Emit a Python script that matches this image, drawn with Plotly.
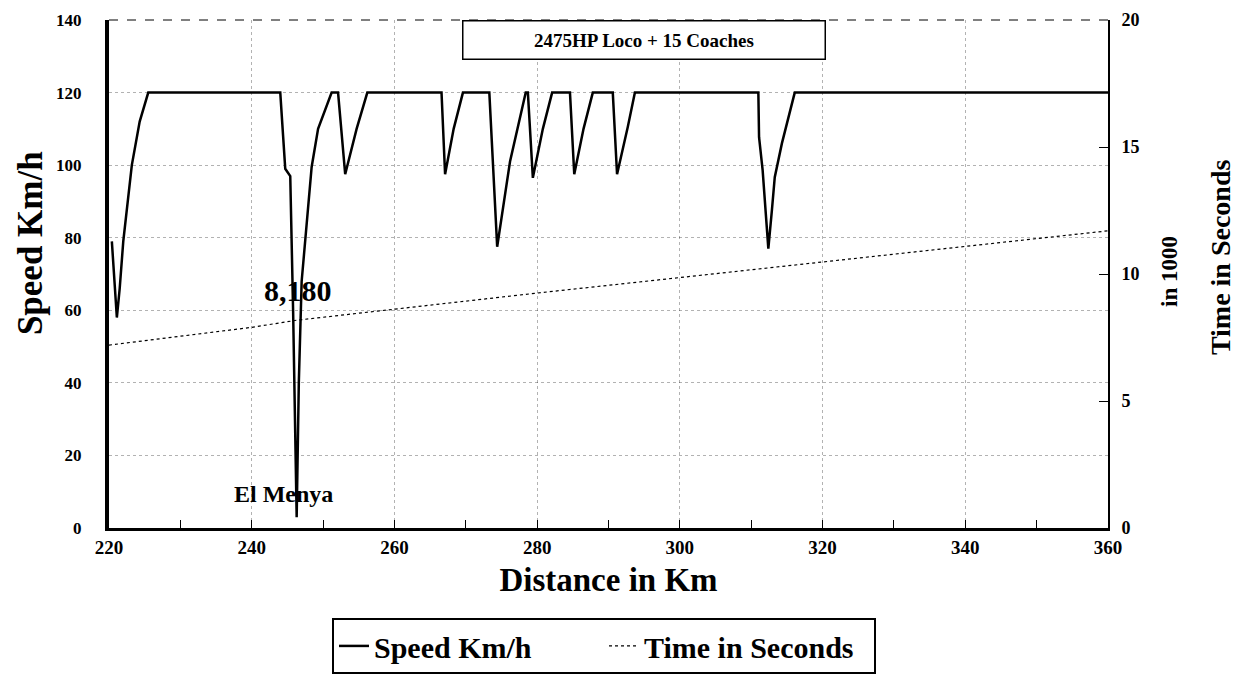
import plotly.graph_objects as go

# speed profile (km, km/h)
dist_km = [220.4, 221.1, 221.5, 222.0, 223.2, 224.3, 225.5,
           244.0, 244.4, 244.7, 245.4, 245.8, 246.3, 246.6, 247.0, 247.5, 248.4, 249.3, 251.2,
           252.1, 253.1, 254.7, 256.2,
           266.6, 267.1, 268.3, 269.6,
           273.3, 274.4, 276.2, 278.4,
           278.7, 279.4, 280.8, 282.1,
           284.6, 285.2, 286.5, 287.8,
           290.6, 291.2, 292.7, 293.7,
           311.0, 311.1, 311.6, 312.4, 312.9, 313.3, 314.3, 316.1,
           360.0]
speed_kmh = [79, 58, 66, 79, 100, 112, 120,
             120, 108, 99, 97, 60, 3, 40, 68, 79, 99.5, 110, 120,
             120, 97.5, 110, 120,
             120, 97.5, 110, 120,
             120, 77.5, 101, 120,
             120, 96.5, 110, 120,
             120, 97.5, 110, 120,
             120, 97.5, 110.5, 120,
             120, 107.7, 98.6, 77, 87.6, 96.7, 106, 120,
             120]

# cumulative time (thousands of seconds)
time_km = [220, 230, 240, 246.3, 260, 280, 300, 320, 340, 360]
time_ks = [7.2, 7.55, 7.9, 8.18, 8.62, 9.25, 9.86, 10.48, 11.08, 11.7]

serif = "Liberation Serif"

fig = go.Figure()
fig.add_trace(go.Scatter(x=dist_km, y=speed_kmh, mode='lines', name='Speed Km/h',
                         line=dict(color='black', width=2.5)))
fig.add_trace(go.Scatter(x=time_km, y=time_ks, mode='lines', name='Time in Seconds',
                         yaxis='y2', line=dict(color='black', width=1.2, dash='dot')))

grid = dict(showgrid=True, gridcolor='rgba(0,0,0,0.3)', griddash='dot', gridwidth=1)

fig.update_layout(
    width=1233, height=687,
    margin=dict(l=101, r=133, t=12, b=167),
    paper_bgcolor='white', plot_bgcolor='white',
    font=dict(family=serif, color='black'),
    showlegend=True,
    legend=dict(orientation='h', x=0.4955, xanchor='center', y=-0.177, yanchor='top',
                bordercolor='black', borderwidth=2, bgcolor='white',
                font=dict(size=30, family=serif, weight='bold'),
                itemwidth=30, entrywidth=225, tracegroupgap=0),
    xaxis=dict(range=[220, 360], dtick=20, zeroline=False, automargin=False,
               tickfont=dict(size=19, weight='bold'),
               ticks='inside', ticklen=8, tickcolor='black',
               minor=dict(dtick=10, ticks='inside', ticklen=8, tickcolor='black'),
               showline=True, linecolor='black', linewidth=3,
               title=dict(text='Distance in Km', font=dict(size=33, weight='bold'), standoff=12),
               **grid),
    yaxis=dict(range=[0, 140], dtick=20, zeroline=False, automargin=False,
               tickfont=dict(size=17, weight='bold'), ticks='', ticklabelstandoff=20,
               showline=True, linecolor='black', linewidth=4,
               **grid),
    yaxis2=dict(range=[0, 20], dtick=5, overlaying='y', side='right', showgrid=False,
                zeroline=False, automargin=False, tickfont=dict(size=18, weight='bold'),
                ticks='inside', ticklen=9, tickcolor='black', ticklabelstandoff=8,
                showline=True, linecolor='black', linewidth=2),
)

# dashed top border of the plot area
fig.add_shape(type='line', xref='paper', yref='paper', x0=0, x1=1, y0=1, y1=1,
              line=dict(color='black', width=1, dash='dash'))

fig.add_annotation(text='2475HP Loco + 15 Coaches', xref='paper', yref='paper',
                   x=0.5355, y=1.0, xanchor='center', yanchor='top', showarrow=False,
                   font=dict(size=19, weight='bold'),
                   bordercolor='black', borderwidth=1.5, bgcolor='white',
                   borderpad=8, width=345)
fig.add_annotation(text='8,180', x=246.5, y=65.5, showarrow=False,
                   font=dict(size=30, weight='bold'))
fig.add_annotation(text='El Menya', x=244.5, y=9.3, showarrow=False,
                   font=dict(size=24, weight='bold'))
fig.add_annotation(text='Speed Km/h', xref='paper', yref='paper', x=-0.079, y=0.561,
                   xanchor='center', yanchor='middle',
                   textangle=-90, showarrow=False, font=dict(size=35, weight='bold'))
fig.add_annotation(text='in 1000', xref='paper', yref='paper', x=1.062, y=0.506,
                   xanchor='center', yanchor='middle',
                   textangle=-90, showarrow=False, font=dict(size=23, weight='bold'))
fig.add_annotation(text='Time in Seconds', xref='paper', yref='paper', x=1.112, y=0.533,
                   xanchor='center', yanchor='middle',
                   textangle=-90, showarrow=False, font=dict(size=28, weight='bold'))

fig.write_html("out.html")
